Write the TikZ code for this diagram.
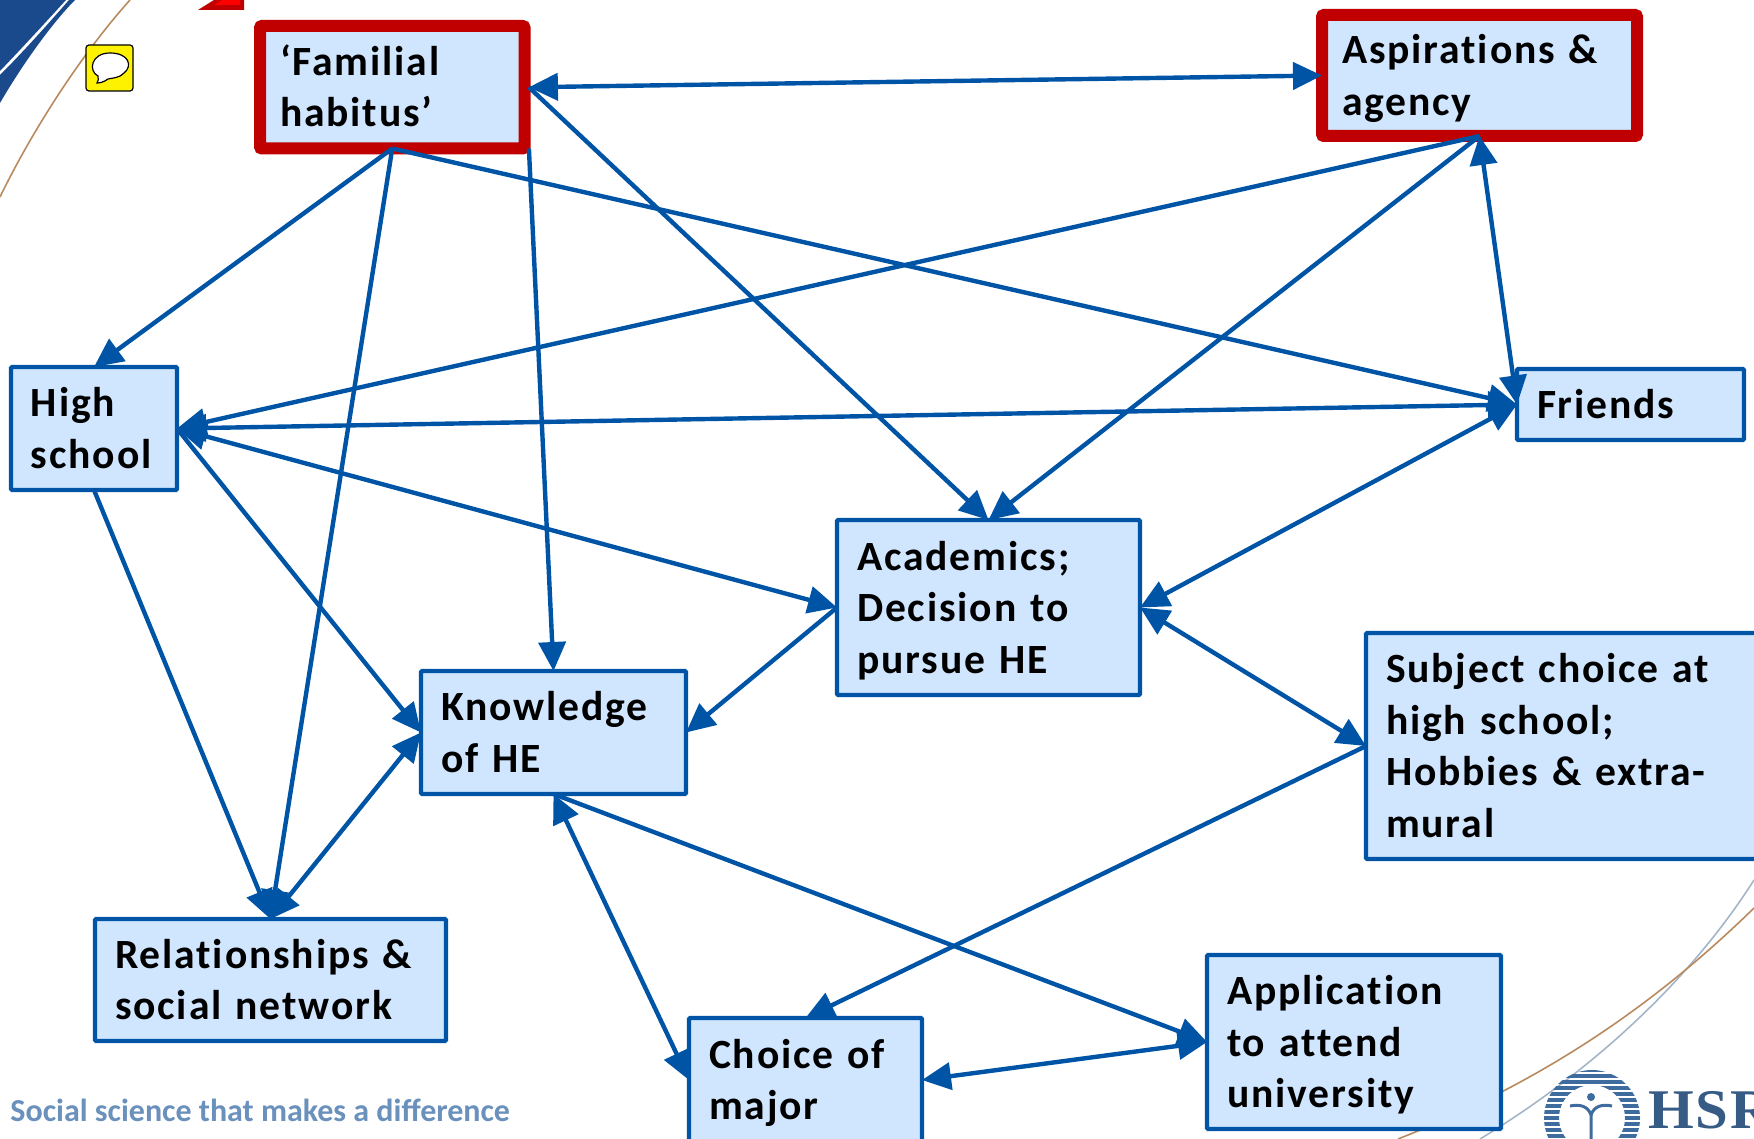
\documentclass[tikz,border=0pt]{standalone}
\usepackage{fontspec}
\usepackage{graphicx}
\setmainfont{Carlito}
\newfontfamily\boxfont[LetterSpace=4.5,RawFeature={-liga;-clig;-dlig}]{Carlito}
\newfontfamily\logofont[LetterSpace=3]{Liberation Serif}
\usetikzlibrary{arrows.meta}
\definecolor{boxfill}{HTML}{D0E6FF}
\definecolor{boxline}{HTML}{0054A6}
\definecolor{hsred}{HTML}{C00000}
\definecolor{swoosh}{HTML}{1B4A8C}
\definecolor{footblue}{HTML}{6A90BC}
\definecolor{logoblue}{HTML}{3F6C9E}
\definecolor{curvebrown}{HTML}{B98A5E}
\definecolor{curvegrey}{HTML}{A5B5C8}
\newcommand{\bx}[7][blue box]{%
  \pgfmathsetmacro{\cx}{(#3+#5)/2}\pgfmathsetmacro{\cy}{(#4+#6)/2}%
  \pgfmathsetmacro{\bw}{(#5-#3)/2}\pgfmathsetmacro{\bh}{(#6-#4)/2}%
  \pgfmathsetmacro{\tw}{\bw-20}%
  \node[#1,minimum width=\bw pt,minimum height=\bh pt,text width=\tw pt] (#2) at (\cx,\cy) {\rule{0pt}{18.5pt}#7\rule[-4.5pt]{0pt}{4.5pt}};}
\tikzset{
  x=0.5pt,y=-0.5pt,
  blue box/.style={draw=boxline,fill=boxfill,line width=2.2pt,rounded corners=0.6pt,inner xsep=10pt,inner ysep=0pt,outer sep=0pt,align=left,
    font=\boxfont\fontsize{20.8}{25.75}\selectfont\bfseries},
  red box/.style={blue box,draw=hsred,line width=6pt,rounded corners=1pt},
  link/.style={draw=boxline,line width=2.2pt,-{Triangle[length=14.5pt,width=13.5pt]}},
  both/.style={link,{Triangle[length=14.5pt,width=13.5pt]}-{Triangle[length=14.5pt,width=13.5pt]}},
  curve/.style={line width=0.8pt}
}
\begin{document}
\begin{tikzpicture}
\clip (0,0) rectangle (1754,1139);
% background decoration
\fill[swoosh] (0,0) -- (66,0) .. controls (45,23) and (22,48) .. (0,71) -- cycle;
\fill[swoosh] (69,0) -- (75,0) .. controls (55,20) and (25,60) .. (0,103) -- (0,75) .. controls (25,50) and (48,24) .. (69,0) -- cycle;
\draw[curve,curvebrown] (130,0) .. controls (85,50) and (35,125) .. (0,197);
\draw[curve,curvegrey] (1754,880) .. controls (1700,965) and (1610,1060) .. (1480,1139);
\draw[curve,curvebrown] (1754,908) .. controls (1670,990) and (1560,1075) .. (1398,1139);
\fill[hsred] (198,10) -- (214,0) -- (244,0) -- (244,10) -- cycle;
\fill[red] (214,5) -- (222,0) -- (240,0) -- (240,5) -- cycle;
% speech icon
\draw[black,fill=yellow,line width=0.6pt,rounded corners=1.5pt] (86,45) rectangle (133,91);
\draw[black,fill=white,line width=0.6pt] (98,76) .. controls (88,71) and (91,53) .. (110,53) .. controls (129,53) and (133,66) .. (124,73) .. controls (120,78) and (112,78) .. (108,79) .. controls (104,82) and (100,83) .. (97,83) .. controls (98,81) and (99,79) .. (98,76) -- cycle;
% logo
\begin{scope}[even odd rule]
\clip (1592,1118) circle (48) (1592,1118) circle (33);
\foreach \yy in {1070,1076,...,1139} \draw[logoblue,line width=1.7pt] (1540,\yy) -- (1645,\yy);
\end{scope}
\draw[logoblue,line width=1.5pt] (1570,1106) .. controls (1580,1104) and (1588,1106) .. (1591,1115) -- (1591,1139);
\draw[logoblue,line width=1.5pt] (1612,1106) .. controls (1602,1104) and (1594,1106) .. (1591,1115);
\fill[logoblue] (1591,1097) circle (4);
\node[font=\logofont\fontsize{28}{28}\selectfont\bfseries,text=logoblue!85!black,anchor=base west,inner sep=0pt] (hsr) at (1648,1128) {\scalebox{1.05}[1]{HSR}};
% footer
\node[font=\fontsize{16}{18}\selectfont\bfseries,text=footblue,anchor=base west,inner sep=0pt] (foot) at (10,1121) {Social science that makes a difference};
% boxes
\bx[red box]{fam}{260}{26}{524.5}{148.5}{‘Familial\\habitus’}
\bx[red box]{asp}{1322}{15}{1637}{136}{Aspirations \&\\agency}
\bx{hs}{11}{367}{177}{490}{High\\school}
\bx{fr}{1517}{369}{1744}{440}{Friends}
\bx{ac}{837}{520}{1140}{695}{Academics;\\Decision to\\pursue HE}
\bx{kn}{421}{671}{686}{794}{Knowledge\\of HE}
\bx{su}{1366}{633}{1770}{859}{Subject choice at\\high school;\\Hobbies \& extra-\\mural}
\bx{re}{95}{919}{446}{1041}{Relationships \&\\social network}
\bx{ch}{689}{1018}{922}{1142}{Choice of\\major}
\bx{ap}{1207}{955}{1501}{1129}{Application\\to attend\\university}
% connectors
\draw[both] ([xshift=2.2pt]fam.east) -- (asp.west);
\draw[link] (fam.south) -- (hs.north);
\draw[link] (fam.south) -- (re.north);
\draw[link] ([xshift=2.2pt]fam.south east) -- (kn.north);
\draw[link] ([xshift=2.2pt]fam.east) -- (ac.north);
\draw[link] (fam.south) -- (fr.west);
\draw[link] (asp.south) -- (hs.east);
\draw[link] (asp.south) -- (ac.north);
\draw[both] (asp.south) -- (fr.west);
\draw[both] (hs.east) -- (fr.west);
\draw[both] (hs.east) -- (ac.west);
\draw[link] (hs.east) -- (kn.west);
\draw[link] (hs.south) -- (re.north);
\draw[both] (fr.west) -- (ac.east);
\draw[both] (ac.east) -- (su.west);
\draw[link] (ac.west) -- (kn.east);
\draw[both] (kn.west) -- (re.north);
\draw[both] (kn.south) -- (ch.west);
\draw[link] (kn.south) -- (ap.west);
\draw[link] (su.west) -- (ch.north);
\draw[both] (ch.east) -- (ap.west);
\end{tikzpicture}
\end{document}
